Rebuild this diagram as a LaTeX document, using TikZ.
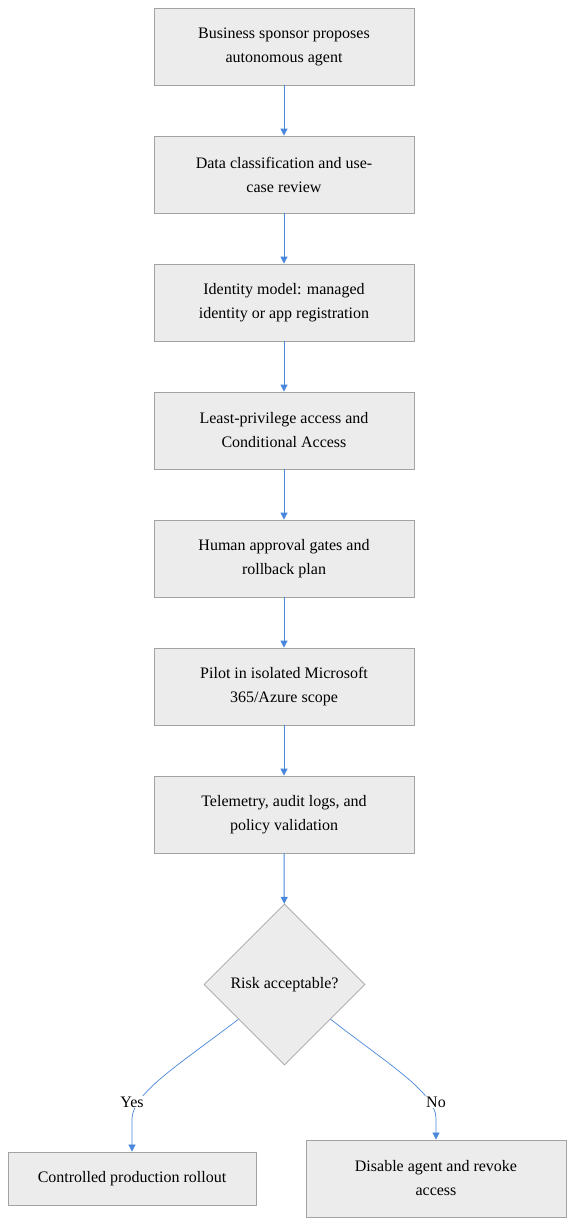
\documentclass[tikz,border=0pt]{standalone}
\usepackage{fontspec}
\setmainfont{Liberation Serif}
\usetikzlibrary{arrows.meta,shapes.geometric}
\definecolor{boxfill}{HTML}{ECECEC}
\definecolor{boxline}{HTML}{A3A3A3}
\definecolor{arrowc}{HTML}{4A86DA}
\tikzset{
  stepbox/.style={draw=boxline, fill=boxfill, line width=0.8pt, minimum width=260pt, minimum height=77pt, align=center, font=\fontsize{16pt}{24pt}\selectfont, inner sep=0pt},
  decision/.style={draw=boxline, fill=boxfill, line width=0.8pt, diamond, minimum width=161pt, minimum height=161pt, inner sep=0pt, align=center, font=\fontsize{16pt}{24pt}\selectfont},
  flow/.style={draw=arrowc, line width=1pt, -{Triangle[length=7pt,width=7pt]}},
  branch/.style={draw=arrowc, line width=0.7pt, -{Triangle[length=7pt,width=7pt]}},
  lbl/.style={fill=white, inner sep=1pt, font=\fontsize{16pt}{24pt}\selectfont}
}
\begin{document}
\begin{tikzpicture}[x=1pt,y=-1pt]
\useasboundingbox (0,0) rectangle (574,1226);
\node[stepbox] (s1) at (284,46.5) {Business sponsor proposes\\autonomous agent};
\node[stepbox] (s2) at (284,174.5) {Data classification and use-\\case review};
\node[stepbox] (s3) at (284,302.5) {Identity model: managed\\identity or app registration};
\node[stepbox] (s4) at (284,430.5) {Least-privilege access and\\Conditional Access};
\node[stepbox] (s5) at (284,558.5) {Human approval gates and\\rollback plan};
\node[stepbox] (s6) at (284,686.5) {Pilot in isolated Microsoft\\365/Azure scope};
\node[stepbox] (s7) at (284,814.5) {Telemetry, audit logs, and\\policy validation};
\node[decision] (d) at (284.5,984.5) {Risk acceptable?};
\node[stepbox, minimum width=248pt, minimum height=53pt] (yes) at (132,1178.5) {Controlled production rollout};
\node[stepbox] (no) at (436,1178.5) {Disable agent and revoke\\access};
\draw[flow] (s1) -- (s2);
\draw[flow] (s2) -- (s3);
\draw[flow] (s3) -- (s4);
\draw[flow] (s4) -- (s5);
\draw[flow] (s5) -- (s6);
\draw[flow] (s6) -- (s7);
\draw[flow] (s7) -- (d);
\draw[branch] (d.217) .. controls (180,1064) and (134,1092) .. (132,1118) -- (yes.north);
\draw[branch] (d.323) .. controls (388,1064) and (435,1092) .. (436,1118) -- (no.north);
\node[lbl] (ly) at (132,1102) {Yes};
\node[lbl] (ln) at (436,1102) {No};
\end{tikzpicture}
\end{document}
